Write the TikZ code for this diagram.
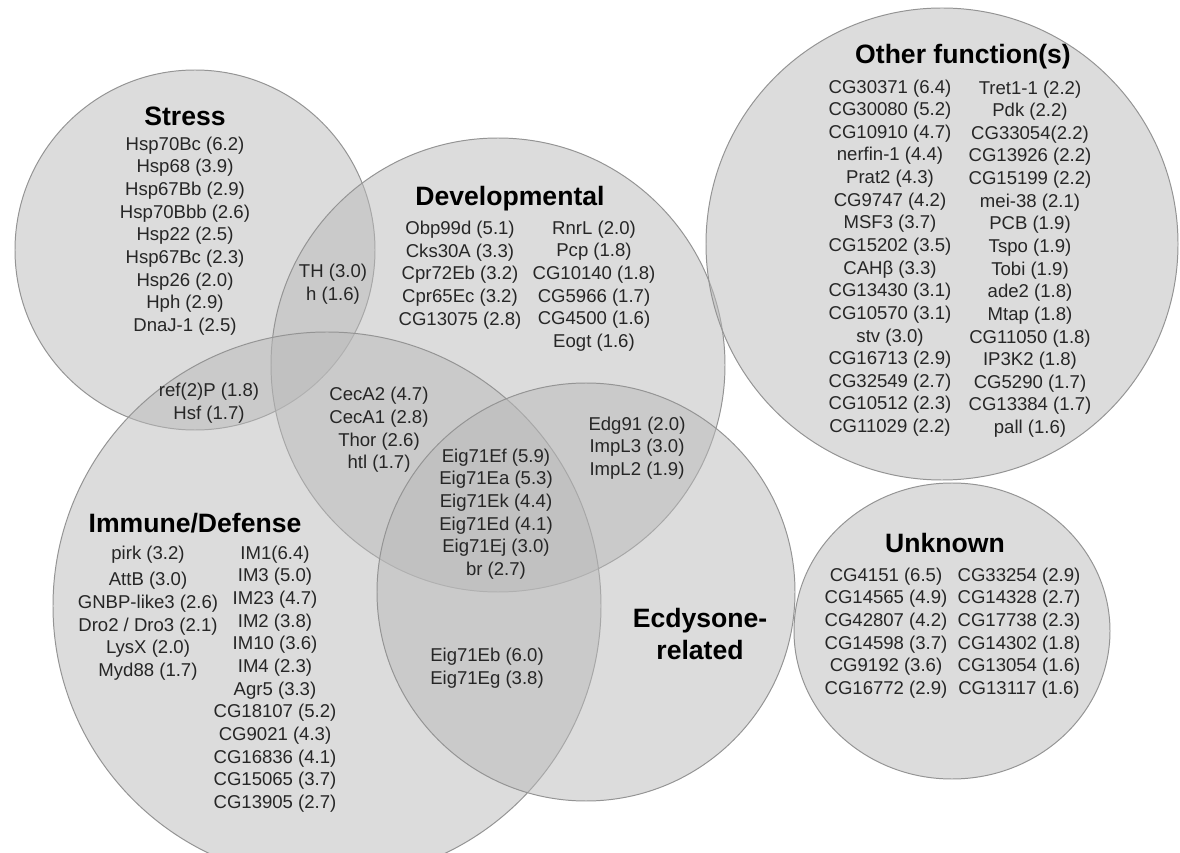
\documentclass[tikz,border=0pt]{standalone}
\usepackage{fontspec}
\setmainfont{Liberation Sans}
\usepackage{tikz}
\usetikzlibrary{positioning}
\definecolor{setfill}{gray}{0.73}
\definecolor{setline}{gray}{0.58}
\definecolor{genetext}{gray}{0.15}
\tikzstyle{set} = [fill=setfill, fill opacity=0.5, draw=setline, line width=0.7pt]
\tikzstyle{title} = [font=\fontsize{18.9}{22.8}\selectfont\bfseries, align=center, inner sep=0pt]
\tikzstyle{genes} = [font=\fontsize{13.2}{16.1}\selectfont, align=center, text=genetext, inner sep=0pt]

\begin{document}
\begin{tikzpicture}[x=0.025cm,y=-0.025cm]
            \clip (0,0) rectangle (1180,853);
            \fill[white] (0,0) rectangle (1180,853);
            \draw[set] (195,250) circle (180);
            \draw[set] (498,365) circle (227);
            \draw[set] (327,606) circle (274);
            \draw[set] (586,592) circle (209);
            \draw[set] (942,244) circle (236);
            \draw[set] (952,631) ellipse [x radius=158, y radius=148];

            \node[title] (stresstitle) at (185,116) {Stress};
            \node[genes] (stresslist) at (185,236) {Hsp70Bc (6.2)\\Hsp68 (3.9)\\Hsp67Bb (2.9)\\Hsp70Bbb (2.6)\\Hsp22 (2.5)\\Hsp67Bc (2.3)\\Hsp26 (2.0)\\Hph (2.9)\\DnaJ-1 (2.5)};
            \node[genes] (thlist) at (333,284) {TH (3.0)\\h (1.6)};
            \node[genes] (refplist) at (209,403) {ref(2)P (1.8)\\Hsf (1.7)};

            \node[title] (devtitle) at (510,199) {Developmental};
            \node[genes] (devleft) at (460,275) {Obp99d (5.1)\\Cks30A (3.3)\\Cpr72Eb (3.2)\\Cpr65Ec (3.2)\\CG13075 (2.8)};
            \node[genes] (devright) at (594,286) {RnrL (2.0)\\Pcp (1.8)\\CG10140 (1.8)\\CG5966 (1.7)\\CG4500 (1.6)\\Eogt (1.6)};
            \node[genes] (cecalist) at (379,430) {CecA2 (4.7)\\CecA1 (2.8)\\Thor (2.6)\\htl (1.7)};
            \node[genes] (edglist) at (637,448) {Edg91 (2.0)\\ImpL3 (3.0)\\ImpL2 (1.9)};
            \node[genes] (eiglist) at (496,514) {Eig71Ef (5.9)\\Eig71Ea (5.3)\\Eig71Ek (4.4)\\Eig71Ed (4.1)\\Eig71Ej (3.0)\\br (2.7)};
            \node[genes] (eigblist) at (487,668) {Eig71Eb (6.0)\\Eig71Eg (3.8)};
            \node[title] (ecdtitle) at (700,634) {Ecdysone-\\related};

            \node[title] (immtitle) at (195,523) {Immune/Defense};
            \node[genes] (immleft) at (148,613) {pirk (3.2)\\[2.8pt]AttB (3.0)\\GNBP-like3 (2.6)\\Dro2 / Dro3 (2.1)\\LysX (2.0)\\Myd88 (1.7)};
            \node[genes] (immright) at (275,679) {IM1(6.4)\\IM3 (5.0)\\IM23 (4.7)\\IM2 (3.8)\\IM10 (3.6)\\IM4 (2.3)\\Agr5 (3.3)\\CG18107 (5.2)\\CG9021 (4.3)\\CG16836 (4.1)\\CG15065 (3.7)\\CG13905 (2.7)};

            \node[title] (othertitle) at (963,57) {Other function(s)};
            \node[genes] (otherleft) at (890,258) {CG30371 (6.4)\\CG30080 (5.2)\\CG10910 (4.7)\\nerfin-1 (4.4)\\Prat2 (4.3)\\CG9747 (4.2)\\MSF3 (3.7)\\CG15202 (3.5)\\CAHβ (3.3)\\CG13430 (3.1)\\CG10570 (3.1)\\stv (3.0)\\CG16713 (2.9)\\CG32549 (2.7)\\CG10512 (2.3)\\CG11029 (2.2)};
            \node[genes] (otherright) at (1030,259) {Tret1-1 (2.2)\\Pdk (2.2)\\CG33054(2.2)\\CG13926 (2.2)\\CG15199 (2.2)\\mei-38 (2.1)\\PCB (1.9)\\Tspo (1.9)\\Tobi (1.9)\\ade2 (1.8)\\Mtap (1.8)\\CG11050 (1.8)\\IP3K2 (1.8)\\CG5290 (1.7)\\CG13384 (1.7)\\pall (1.6)};

            \node[title] (unktitle) at (945,543) {Unknown};
            \node[genes] (unkleft) at (886,633) {CG4151 (6.5)\\CG14565 (4.9)\\CG42807 (4.2)\\CG14598 (3.7)\\CG9192 (3.6)\\CG16772 (2.9)};
            \node[genes] (unkright) at (1019,633) {CG33254 (2.9)\\CG14328 (2.7)\\CG17738 (2.3)\\CG14302 (1.8)\\CG13054 (1.6)\\CG13117 (1.6)};
        \end{tikzpicture}
\end{document}
